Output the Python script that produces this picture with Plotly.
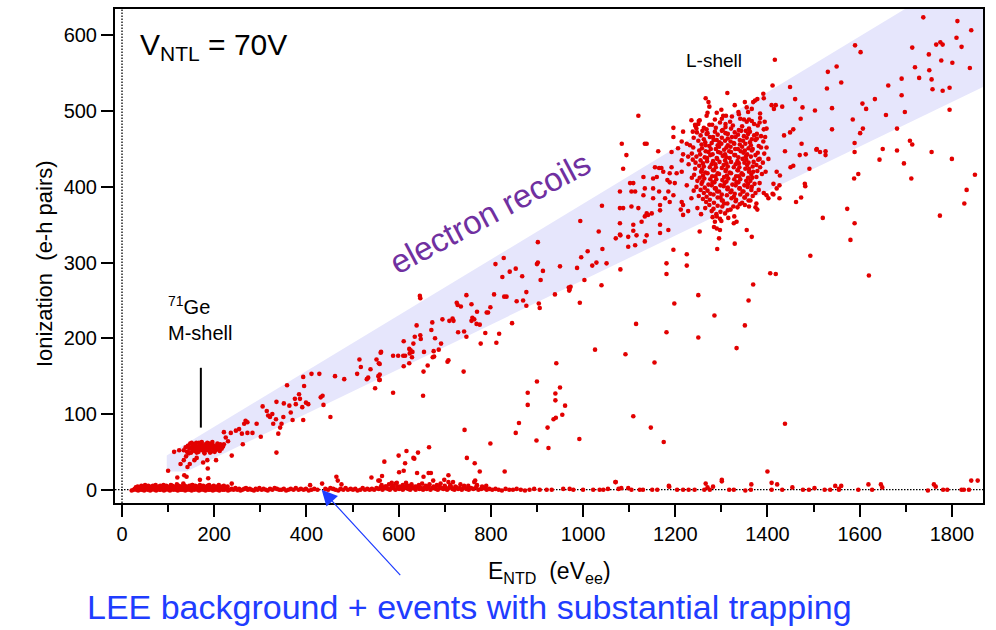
import plotly.graph_objects as go

# ---------------------------------------------------------------------------
# Event data: E_NTD (eV_ee) vs ionization (e-h pairs)
# ---------------------------------------------------------------------------

# Low-energy excess: dense strip just above zero ionization
lee_low_x = [21, 25, 28, 31, 35, 38, 41, 45, 48, 51, 55, 58, 61, 64, 68, 71, 74, 78, 81, 84,
             88, 91, 94, 97, 101, 104, 107, 111, 114, 117, 121, 124, 127, 131, 134, 137, 141, 144, 147, 151,
             154, 157, 161, 164, 167, 171, 174, 177, 181, 184, 187, 191, 194, 197, 201, 204, 207, 211, 214, 218,
             222, 226, 230, 234]
lee_low_y = [-1, 0, 1, 0, -1, 1, 0, 0, -1, 1, 0, 1, -1, 0, 1, 0, -1, 1, 0, 0,
             1, -1, 0, 1, 0, -1, 1, 0, 1, 0, -1, 1, 0, 0, 1, -1, 0, 1, 0, -1,
             1, 0, 1, 0, -1, 0, 1, 0, -1, 1, 0, 0, 1, -1, 0, 1, 0, -1, 1, 0,
             0, 1, -1, 0]

lee_up_x = [30, 34, 37, 42, 46, 50, 53, 57, 60, 63, 67, 70, 73, 77, 80, 83, 86, 90, 93, 96,
            99, 103, 106, 109, 113, 116, 119, 123, 126, 129, 133, 136, 139, 143, 146, 149, 153, 156, 159, 163,
            166, 169, 173, 176, 179, 183, 186, 189, 193, 196, 199, 203, 206, 210, 213, 217, 221, 225, 229]
lee_up_y = [3, 4, 3, 5, 4, 6, 3, 5, 4, 3, 5, 4, 6, 3, 4, 5, 3, 6, 4, 5,
            3, 4, 6, 5, 3, 4, 7, 5, 4, 3, 6, 5, 4, 3, 5, 4, 6, 3, 5, 4,
            3, 6, 4, 5, 3, 4, 5, 6, 3, 4, 5, 3, 4, 6, 3, 4, 5, 3, 4]

lee_mid_x = [238, 242, 246, 250, 254, 257, 261, 265, 269, 273, 277, 281, 286, 290, 294, 298, 303, 307, 312, 316,
             321, 326, 331, 336, 341, 346, 351, 356, 361, 366, 372, 377, 383, 388, 394, 399, 405, 411, 417, 424,
             441, 447, 452, 458, 463, 469, 474, 480, 485, 490, 496, 501, 506, 511, 517, 522, 527, 532, 537, 542,
             547, 552, 557, 561, 565, 569, 573, 577, 581, 585, 589, 593, 597, 601, 605, 609, 613, 617, 621, 625,
             629, 633, 637, 641, 645, 649, 653, 657, 661, 665, 669, 673, 677, 681, 685, 689, 693, 697, 701, 705,
             709, 713, 717, 721, 725, 729, 733, 737, 742, 747, 752, 757, 762, 768, 773, 779, 785, 791, 797, 803,
             810, 817, 824, 832, 840, 848, 856, 865, 874, 884, 894]
lee_mid_y = [1, 0, 2, 0, 1, -1, 0, 1, 2, 0, 1, 0, -1, 1, 0, 2, 0, 1, 0, -1,
             1, 0, 2, 1, 0, 0, 1, -1, 0, 1, 0, 2, 0, 1, 0, 1, -1, 0, 1, 0,
             1, 0, 2, 1, 0, -1, 1, 0, 2, 0, 1, 0, 1, -1, 0, 2, 0, 1, 0, 1,
             0, 2, 1, 3, 0, 2, 4, 1, 0, 3, 2, 0, 4, 1, 3, 0, 2, 5, 1, 0,
             3, 2, 0, 4, 1, 2, 0, 3, 1, 4, 0, 2, 3, 1, 0, 4, 2, 1, 3, 0,
             2, 4, 1, 0, 3, 1, 2, 0, 3, 1, 0, 2, 1, 3, 0, 1, 2, 0, 1, 0,
             1, 0, -1, 1, 0, 0, 1, 0, -1, 0, 1]

lee_bump_x = [563, 571, 579, 588, 594, 603, 609, 616, 622, 628, 636, 644, 651, 659, 667, 676, 683, 691, 700, 712,
              723, 734, 751, 770, 781, 790]
lee_bump_y = [6, 4, 7, 5, 8, 4, 6, 9, 5, 7, 4, 6, 8, 5, 7, 4, 6, 8, 5, 6,
              4, 7, 5, 6, 4, 5]

lee_right_x = [906, 921, 932, 957, 971, 979, 1000, 1022, 1036, 1044, 1054, 1071, 1077, 1083, 1098, 1105, 1123, 1130, 1150, 1161,
               1187, 1204, 1217, 1229, 1242, 1263, 1266, 1270, 1275, 1282, 1301, 1317, 1327, 1352, 1364, 1365, 1409, 1409, 1421, 1432,
               1454, 1477, 1490, 1502, 1524, 1536, 1547, 1555, 1555, 1560, 1597, 1619, 1627, 1646, 1649, 1748, 1761, 1765, 1781, 1790,
               1821, 1826, 1837, 1842, 1856]
lee_right_y = [0, 0, 0, 1, 1, 0, 0, 0, 0, 0, 1, 10, 1, 2, 2, 0, 0, 0, 0, 0,
               4, 0, 0, 0, 0, 0, 8, 3, 0, 4, 11, 0, 0, -1, 0, 7, 9, 0, 7, 0,
               3, 0, 0, 2, 0, 0, 5, 1, 0, 5, 0, 7, 0, 7, 3, -1, 7, 4, 0, 0,
               0, 0, 0, 12, 12]

# Few events slightly above the low-energy strip
low_x = [100, 120, 135, 140, 142, 133, 152, 169, 187, 186, 238, 408, 434, 465, 468, 476, 541, 556]
low_y = [25, 16, 19, 17, 30, 8, 6, 13, 15, 28, 8, 6, 8, 17, 12, 7, 16, 12]

# 71Ge M-shell capture line (~160 eV)
mshell_x = [134, 138, 141, 143, 146, 148, 150, 152, 153, 155, 157, 158, 160, 161, 163, 165, 166, 168, 169, 171,
            172, 174, 175, 177, 178, 180, 181, 183, 184, 186, 187, 189, 190, 192, 193, 195, 197, 198, 200, 202,
            204, 206, 208, 210, 213, 216, 219, 145, 151, 156, 162, 167, 173, 179, 185, 191, 196, 201, 207, 212]
mshell_y = [52, 56, 50, 58, 54, 61, 49, 57, 53, 60, 55, 51, 58, 62, 54, 56, 50, 59, 53, 57,
            61, 52, 55, 58, 50, 54, 60, 56, 52, 58, 55, 61, 53, 57, 50, 56, 59, 54, 57, 52,
            55, 58, 53, 56, 60, 54, 57, 48, 62, 60, 49, 62, 63, 48, 62, 49, 63, 50, 61, 51]

# Electron-recoil band between the M- and L-shell lines
er_x = [113, 124, 127, 134, 139, 147, 157, 162, 176, 185, 204, 221, 225, 230, 238, 221, 217, 236, 247, 254,
        260, 268, 272, 262, 265, 272, 283, 292, 301, 305, 314, 317, 321, 326, 328, 335, 334, 343, 346, 350,
        339, 351, 358, 335, 363, 366, 375, 377, 384, 386, 391, 370, 393, 395, 399, 404, 393, 411, 428, 431,
        435, 437, 452, 462, 482, 510, 515, 518, 531, 534, 539, 556, 558, 549, 552, 557, 561,
        1041, 994, 1034, 1071, 1081, 902, 1042, 1010, 996, 810, 828, 900, 902, 913, 950, 987, 1020, 1029, 1051, 1081,
        825, 841, 854, 868, 908, 1003, 1040, 969, 971, 970, 973, 993, 939, 877, 856, 870, 877, 904, 906, 807,
        829, 834, 799, 791, 794, 758, 747, 770, 760, 764, 758, 769, 776, 846, 726, 728, 735, 695, 710, 717,
        719, 639, 673, 671, 729, 742, 747, 788, 818, 778, 812, 635, 647, 648, 632, 611, 679, 692, 623, 626,
        630, 624, 687, 676, 655, 588, 599, 610, 614, 629, 562, 674, 677, 623, 611, 663, 706, 708, 654, 741,
        559, 559, 559, 646, 647]
er_y = [50, 52, 34, 39, 44, 34, 39, 42, 36, 39, 39, 76, 69, 64, 45, 60, 56, 75, 78, 80,
        74, 91, 89, 60, 87, 75, 75, 87, 70, 110, 104, 98, 96, 100, 87, 116, 93, 82, 87, 96,
        74, 114, 138, 49, 111, 102, 120, 113, 126, 120, 109, 92, 149, 137, 115, 113, 92, 153, 153, 122,
        124, 112, 96, 150, 146, 153, 172, 162, 146, 148, 159, 150, 145, 134, 172, 167, 181,
        375, 355, 341, 332, 336, 327, 318, 315, 307, 298, 306, 298, 300, 289, 295, 293, 296, 300, 299, 291,
        281, 288, 292, 282, 277, 277, 270, 267, 265, 263, 268, 247, 258, 261, 249, 250, 243, 246, 240, 258,
        255, 255, 241, 234, 234, 245, 257, 235, 227, 225, 223, 219, 218, 220, 247, 244, 242, 225, 223, 226,
        223, 217, 221, 211, 208, 209, 202, 207, 206, 193, 194, 202, 204, 199, 193, 196, 200, 193, 186, 184,
        182, 180, 185, 183, 182, 177, 177, 177, 177, 175, 182, 175, 176, 167, 163, 164, 169, 171, 156, 156,
        166, 152, 145, 256, 253]

# L-shell capture line (~1.3 keV): outer events
lper_x = [1416, 1313, 1266, 1272, 1274, 1411, 1391, 1392, 1449, 1460, 1476, 1503, 1409, 1418, 1432, 1414, 1472, 1456, 1449, 1436,
          1474, 1507, 1438, 1470, 1491, 1450, 1456, 1481, 1482, 1426, 1420, 1427, 1413, 1420, 1411, 1413, 1398, 1402, 1426, 1473,
          1462, 1376, 1374, 1351, 1360, 1328, 1333, 1355, 1366, 1290, 1297, 1286, 1284, 1290, 1297, 1295, 1291, 1315, 1329, 1253,
          1225, 1225, 1181, 1196, 1167, 1185, 1138, 1134, 1116, 1109, 1098, 1113, 1098, 1080, 1493, 1120, 1134, 1138, 1084, 1094,
          1087, 1163, 1196, 1214, 1225, 1206, 1192, 1156, 1165, 1170, 1192, 1174, 1188, 1203, 1214, 1214, 1217, 1228, 1102, 1109,
          1080, 1105, 1113, 1131, 1152, 1160, 1152, 1165, 1183, 1188, 1199, 1185, 1196, 1131, 1134, 1080, 1087, 1105, 1120, 1138,
          1141, 1149, 1134, 1152, 1167, 1178, 1167, 1188, 1214, 1217, 1212, 1217, 1228, 1235, 1225, 1127, 1167, 1080, 1109, 1196,
          1217, 1235, 1238, 1250, 1253, 1246, 1290, 1304, 1310, 1329, 1337, 1351, 1355, 1358, 1369, 1366, 1373, 1378, 1384, 1384,
          1394, 1398]
lper_y = [568, 524, 517, 512, 506, 534, 523, 517, 532, 516, 505, 501, 508, 508, 506, 503, 490, 476, 472, 468,
          457, 450, 447, 442, 424, 426, 428, 404, 401, 402, 420, 415, 404, 398, 391, 390, 389, 385, 385, 386,
          380, 378, 373, 376, 374, 361, 354, 343, 334, 361, 358, 354, 347, 345, 343, 332, 318, 359, 325, 341,
          311, 296, 299, 317, 339, 343, 336, 328, 336, 342, 334, 323, 321, 337, 309, 494, 457, 457, 457, 442,
          424, 447, 466, 460, 457, 451, 446, 426, 425, 425, 426, 420, 418, 418, 420, 435, 443, 440, 405, 405,
          394, 394, 394, 389, 411, 413, 398, 394, 409, 406, 405, 394, 389, 413, 398, 372, 372, 374, 372, 365,
          363, 365, 361, 385, 376, 385, 369, 380, 380, 376, 370, 363, 368, 385, 402, 354, 350, 352, 350, 478,
          473, 488, 473, 483, 488, 477, 498, 494, 494, 508, 499, 512, 505, 499, 512, 503, 514, 516, 497, 491,
          486, 477]

# Sparse events on the rim of the L-shell cluster
ledge_x = [1232, 1229, 1236, 1240, 1398, 1402, 1396, 1395, 1270, 1300, 1338, 1360, 1256, 1281, 1248, 1378, 1392, 1243, 1300, 1327]
ledge_y = [455, 430, 412, 395, 452, 437, 420, 466, 498, 502, 496, 489, 364, 360, 372, 370, 392, 482, 355, 352]

# L-shell capture line: dense core
lcore_x = [1268, 1301, 1323, 1349,
           1251, 1286, 1319, 1341, 1366, 1383,
           1274, 1297, 1309, 1355, 1371,
           1244, 1262, 1280, 1309, 1325, 1345, 1360, 1379,
           1268, 1288, 1301, 1321, 1338, 1353, 1392,
           1247, 1259, 1270, 1286, 1303, 1314, 1329, 1343, 1362, 1377,
           1255, 1268, 1282, 1292, 1309, 1323, 1336, 1349, 1358, 1371, 1386,
           1240, 1262, 1275, 1290, 1301, 1314, 1331, 1340, 1355, 1366, 1377,
           1250, 1265, 1283, 1296, 1308, 1320, 1328, 1347, 1362, 1374, 1391,
           1257, 1266, 1279, 1292, 1300, 1314, 1327, 1340, 1352, 1364, 1381,
           1239, 1258, 1274, 1288, 1295, 1311, 1320, 1336, 1345, 1359, 1368, 1386,
           1252, 1266, 1277, 1293, 1306, 1317, 1330, 1342, 1351, 1366, 1379,
           1236, 1254, 1272, 1281, 1298, 1308, 1321, 1330, 1348, 1356, 1374, 1393,
           1246, 1264, 1276, 1290, 1303, 1311, 1328, 1337, 1353, 1364, 1383,
           1238, 1255, 1269, 1282, 1291, 1308, 1318, 1335, 1346, 1354, 1370, 1380,
           1244, 1260, 1269, 1287, 1296, 1311, 1321, 1338, 1350, 1359, 1376, 1390,
           1252, 1262, 1279, 1288, 1305, 1314, 1331, 1339, 1356, 1368, 1384,
           1243, 1258, 1275, 1284, 1301, 1310, 1327, 1336, 1352, 1360, 1378,
           1256, 1265, 1282, 1292, 1309, 1318, 1335, 1344, 1360, 1369, 1388,
           1241, 1260, 1270, 1287, 1295, 1312, 1321, 1338, 1347, 1365, 1376,
           1253, 1263, 1280, 1289, 1306, 1315, 1332, 1341, 1358, 1367,
           1248, 1259, 1276, 1285, 1302, 1311, 1328, 1337, 1354, 1363, 1383,
           1257, 1272, 1281, 1298, 1307, 1324, 1333, 1350, 1358, 1372,
           1246, 1264, 1279, 1288, 1305, 1314, 1331, 1340, 1357, 1366,
           1255, 1270, 1286, 1295, 1313, 1322, 1339, 1348, 1365, 1381,
           1262, 1276, 1291, 1301, 1320, 1329, 1346, 1356, 1374,
           1251, 1268, 1283, 1298, 1312, 1327, 1341, 1351, 1368,
           1260, 1275, 1292, 1303, 1322, 1332, 1350, 1363,
           1267, 1284, 1301, 1313, 1331, 1345, 1359,
           1274, 1292, 1306, 1326, 1340,
           1265, 1283, 1302, 1320, 1335,
           1279, 1298, 1314,
           1289, 1308]
lcore_y = [494, 490, 493, 489,
           487, 489, 486, 490, 487, 485,
           482, 485, 483, 486, 483,
           480, 478, 482, 479, 481, 480, 477, 481,
           476, 478, 474, 477, 475, 474, 476,
           472, 474, 471, 473, 475, 470, 472, 474, 473, 470,
           468, 470, 466, 469, 471, 466, 469, 467, 470, 468, 467,
           465, 463, 466, 462, 465, 464, 466, 462, 465, 463, 464,
           461, 459, 462, 459, 461, 460, 457, 461, 459, 462, 460,
           456, 455, 458, 455, 457, 455, 458, 456, 457, 455, 454,
           452, 451, 454, 450, 453, 452, 453, 450, 453, 451, 450, 452,
           448, 447, 450, 446, 449, 447, 450, 447, 448, 448, 445,
           444, 443, 446, 443, 445, 443, 446, 442, 445, 443, 442, 444,
           440, 439, 442, 438, 441, 439, 442, 439, 440, 440, 437,
           436, 435, 438, 434, 437, 435, 438, 434, 437, 436, 433, 436,
           432, 431, 434, 430, 433, 431, 433, 431, 432, 432, 429, 432,
           428, 427, 430, 426, 429, 427, 430, 426, 429, 427, 426,
           424, 423, 426, 422, 425, 423, 426, 422, 424, 424, 421,
           420, 419, 422, 418, 421, 419, 422, 418, 420, 420, 417,
           416, 415, 418, 414, 417, 415, 418, 414, 416, 416, 413,
           412, 411, 414, 410, 413, 411, 414, 410, 412, 412,
           408, 407, 410, 406, 409, 407, 410, 406, 408, 408, 405,
           404, 403, 406, 402, 405, 403, 406, 402, 404, 404,
           400, 399, 402, 398, 401, 399, 402, 398, 400, 400,
           396, 395, 398, 394, 397, 395, 398, 394, 396, 396,
           392, 391, 394, 390, 393, 391, 394, 390, 392,
           388, 387, 390, 386, 389, 387, 390, 386, 388,
           384, 383, 386, 382, 385, 383, 386, 382,
           380, 379, 382, 378, 381, 379, 382,
           376, 375, 378, 374, 377,
           372, 371, 374, 370, 373,
           368, 367, 369,
           364, 365]

# High-energy electron recoils above the L-shell line
hi_x = [1738, 1812, 1842, 1810, 1821, 1766, 1775, 1780, 1714, 1750, 1590, 1602, 1550, 1531, 1560, 1529, 1777, 1801, 1839, 1720,
        1751, 1729, 1756, 1691, 1662, 1758, 1780, 1795, 1691, 1633, 1606, 1614, 1540, 1657, 1698, 1795, 1585, 1540, 1607, 1601,
        1681, 1589, 1589, 1506, 1514, 1526, 1526, 1483, 1650, 1681, 1709, 1714, 1756, 1800, 1643, 1696, 1597, 1588, 1712, 1850,
        1832, 1827, 1573, 1589, 1520, 1774, 1580]
hi_y = [624, 619, 607, 597, 585, 588, 591, 588, 584, 575, 587, 578, 559, 552, 538, 530, 567, 564, 557, 558,
        554, 544, 542, 543, 534, 529, 527, 531, 521, 516, 510, 503, 504, 495, 499, 502, 489, 476, 477, 471,
        477, 458, 446, 449, 446, 447, 442, 443, 450, 448, 461, 456, 446, 437, 436, 431, 417, 411, 411, 416,
        396, 378, 371, 352, 359, 362, 330]

# Events with reduced ionization (charge trapping) below the band
trap_x = [1181, 1198, 1115, 1181, 1026, 1092, 1155, 942, 900, 950, 940, 940, 880, 588, 653, 880, 961, 955, 936, 941,
          923, 925, 899, 861, 854, 799, 743, 748, 765, 776, 830, 992, 1109, 1147, 1175, 1070, 1186, 666, 642, 632,
          634, 617, 600, 614, 611, 601, 569, 564, 559, 640, 665, 670, 654, 708, 699, 675, 708, 718, 766, 764,
          742, 585, 596, 1406, 1418, 1369, 1250, 1359, 1620, 1285, 1351, 1250, 1333, 1438, 1400, 1301]
trap_y = [285, 246, 219, 208, 185, 179, 168, 167, 143, 135, 127, 118, 128, 128, 124, 112, 111, 99, 93, 95,
          82, 55, 65, 88, 75, 61, 79, 42, 35, 24, 24, 67, 97, 82, 63, 10, 5, 56, 49, 42,
          41, 51, 45, 35, 25, 23, 37, 18, 12, 22, 22, 22, 17, 19, 13, 12, 10, 10, 12, 10,
          5, 9, 9, 286, 285, 271, 257, 250, 283, 230, 217, 201, 187, 87, 24, 13]

# Electron-recoil band outline (eV_ee, e-h pairs)
band_x = [97, 1701, 1868, 1868, 140, 97]
band_y = [45, 636, 636, 532, 24, 24]

# Axis ranges and ticks
x_range = [-15.2, 1867.5]
y_range = [-17.6, 635]
x_ticks = [0, 200, 400, 600, 800, 1000, 1200, 1400, 1600, 1800]
y_ticks = [0, 100, 200, 300, 400, 500, 600]

# ---------------------------------------------------------------------------
RED = "rgb(226,0,0)"
FONT = "Liberation Sans, Arial, Helvetica, sans-serif"

groups = [
    (lee_low_x, lee_low_y), (lee_up_x, lee_up_y), (lee_mid_x, lee_mid_y),
    (lee_bump_x, lee_bump_y), (lee_right_x, lee_right_y), (low_x, low_y),
    (mshell_x, mshell_y), (er_x, er_y), (lper_x, lper_y), (ledge_x, ledge_y),
    (lcore_x, lcore_y), (hi_x, hi_y), (trap_x, trap_y),
]

fig = go.Figure()
for gx, gy in groups:
    fig.add_trace(go.Scatter(
        x=gx, y=gy, mode="markers",
        marker=dict(color=RED, size=4.6, line=dict(width=0)),
        showlegend=False, hoverinfo="x+y", cliponaxis=True,
    ))

band_path = "M " + " L ".join(f"{bx},{by}" for bx, by in zip(band_x, band_y)) + " Z"

shapes = [
    # electron-recoil band
    dict(type="path", path=band_path, xref="x", yref="y", layer="below",
         fillcolor="rgb(230,230,252)", line=dict(width=0)),
    # dotted zero lines
    dict(type="line", xref="x", yref="paper", x0=0, x1=0, y0=0, y1=1, layer="below",
         line=dict(color="black", width=1.3, dash="1.5px,1.5px")),
    dict(type="line", xref="paper", yref="y", x0=0, x1=1, y0=0, y1=0, layer="below",
         line=dict(color="black", width=1.3, dash="1.5px,1.5px")),
    # M-shell marker line
    dict(type="line", xref="x", yref="y", x0=171, x1=171, y0=82, y1=161,
         line=dict(color="black", width=2)),
]

annotations = [
    dict(text="V<sub>NTL</sub> = 70V", xref="paper", yref="paper", x=0.026, y=0.925,
         xanchor="left", yanchor="middle", showarrow=False,
         font=dict(family=FONT, size=30, color="black")),
    dict(text="L-shell", xref="x", yref="y", x=1283, y=567,
         xanchor="center", yanchor="middle", showarrow=False,
         font=dict(family=FONT, size=19, color="black")),
    dict(text="<sup>71</sup>Ge<br>M-shell", xref="x", yref="y", x=95, y=262,
         xanchor="left", yanchor="top", align="left", showarrow=False,
         font=dict(family=FONT, size=20, color="black")),
    dict(text="electron recoils", xref="x", yref="y", x=799, y=366,
         xanchor="center", yanchor="middle", textangle=-28, showarrow=False,
         font=dict(family=FONT, size=33, color="#7030a0")),
    dict(text="", xref="x", yref="y", x=433, y=0, ax=80, ay=87, axref="pixel", ayref="pixel",
         showarrow=True, arrowhead=2, arrowsize=2.6, arrowwidth=1.2, arrowcolor="#1f3dff"),
    dict(text="LEE background + events with substantial trapping", xref="paper", yref="paper",
         x=0.408, y=-0.21, xanchor="center", yanchor="middle", showarrow=False,
         font=dict(family=FONT, size=34, color="#1f3dff")),
    dict(text="E<sub>NTD</sub>\u00a0 (eV<sub>ee</sub>)", xref="paper", yref="paper",
         x=0.5, y=-0.14, xanchor="center", yanchor="middle", showarrow=False,
         font=dict(family=FONT, size=23, color="black")),
    dict(text="Ionization\u00a0 (e-h pairs)", xref="paper", yref="paper",
         x=-0.081, y=0.485, xanchor="center", yanchor="middle", textangle=-90, showarrow=False,
         font=dict(family=FONT, size=22, color="black")),
]

axis_common = dict(
    showline=True, linecolor="black", linewidth=2, mirror=True,
    ticks="outside", ticklen=12, tickwidth=1.5, tickcolor="black",
    showgrid=False, zeroline=False,
    tickfont=dict(family=FONT, size=20, color="black"),
)

fig.update_layout(
    width=996, height=630,
    margin=dict(l=115, r=13, t=7, b=127),
    paper_bgcolor="white", plot_bgcolor="white",
    shapes=shapes, annotations=annotations,
    xaxis=dict(range=x_range, tickvals=x_ticks,
               minor=dict(dtick=100, tick0=0, ticks="outside", ticklen=7, tickwidth=1.5,
                          tickcolor="black", showgrid=False),
               **axis_common),
    yaxis=dict(range=y_range, tickvals=y_ticks, **axis_common),
)

fig.write_html("out.html")
